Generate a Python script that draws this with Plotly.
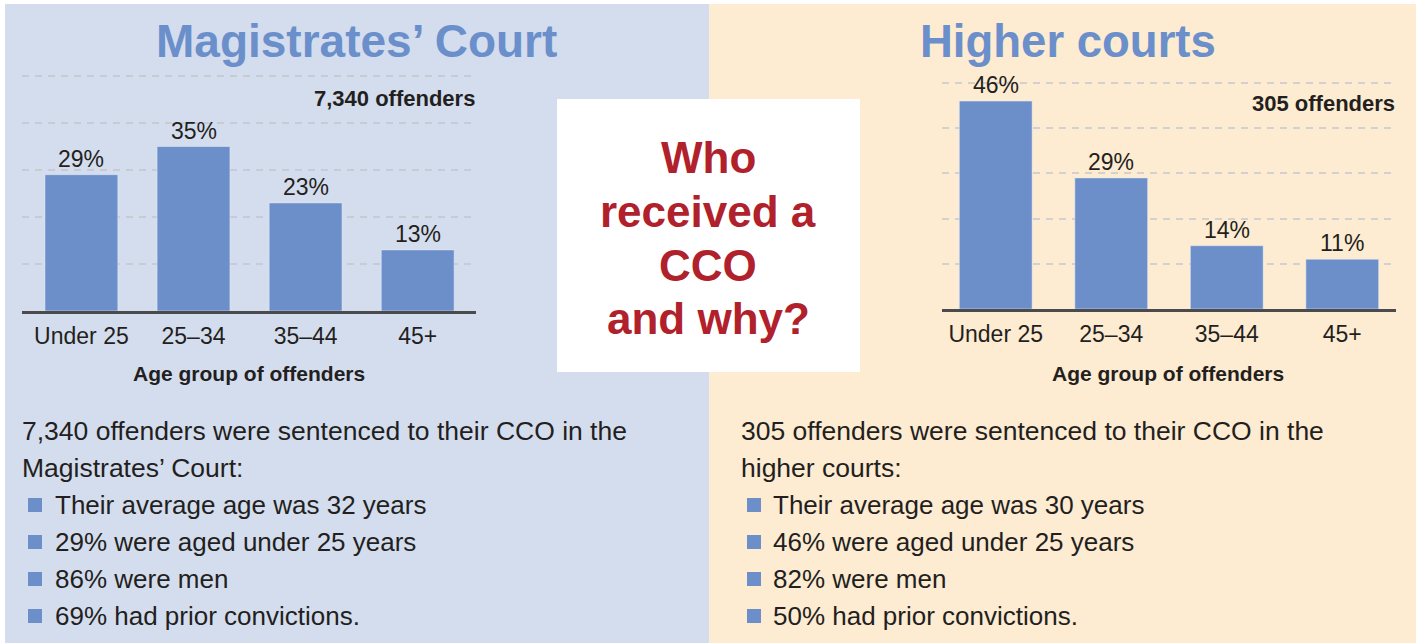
import plotly.graph_objects as go

# ---------------- data ----------------
categories = ["Under 25", "25–34", "35–44", "45+"]
magistrates_pct = [29, 35, 23, 13]
higher_pct = [46, 29, 14, 11]

left_title = "Magistrates’ Court"
right_title = "Higher courts"
left_count = "7,340 offenders"
right_count = "305 offenders"
axis_title = "Age group of offenders"
centre_lines = ["Who", "received a", "CCO", "and why?"]

left_intro = ["7,340 offenders were sentenced to their CCO in the", "Magistrates’ Court:"]
left_bullets = ["Their average age was 32 years", "29% were aged under 25 years",
                "86% were men", "69% had prior convictions."]
right_intro = ["305 offenders were sentenced to their CCO in the", "higher courts:"]
right_bullets = ["Their average age was 30 years", "46% were aged under 25 years",
                 "82% were men", "50% had prior convictions."]

# ---------------- style ----------------
W, H = 1416, 643
FONT = "Liberation Sans, Arial, Helvetica, sans-serif"
BLUE_BG = "#D4DDEE"
CREAM_BG = "#FDEBD2"
BAR = "#6C8FC9"
TITLE = "#6B8FCA"
RED = "#B0212B"
TXT = "#231F20"
AXIS = "#4B4B4D"


def px(x):
    return x / W


def py(y):
    return 1 - y / H


fig = go.Figure()

fig.add_trace(go.Bar(x=categories, y=magistrates_pct, marker_color=BAR, width=0.65,
                     xaxis="x", yaxis="y", hoverinfo="skip", showlegend=False))
fig.add_trace(go.Bar(x=categories, y=higher_pct, marker_color=BAR, width=0.63,
                     xaxis="x2", yaxis="y2", hoverinfo="skip", showlegend=False))

shapes = [
    dict(type="rect", xref="paper", yref="paper", x0=px(5), x1=px(709), y0=py(643), y1=py(4),
         fillcolor=BLUE_BG, line_width=0, layer="below"),
    dict(type="rect", xref="paper", yref="paper", x0=px(709), x1=px(1416), y0=py(643), y1=py(4),
         fillcolor=CREAM_BG, line_width=0, layer="below"),
    dict(type="rect", xref="paper", yref="paper", x0=px(557), x1=px(860), y0=py(372), y1=py(99),
         fillcolor="white", line_width=0, layer="above"),
]

annotations = []


def text(x, y, s, size, color=TXT, bold=False, xanchor="center"):
    annotations.append(dict(xref="paper", yref="paper", x=px(x), y=py(y), text=s,
                            showarrow=False, xanchor=xanchor, yanchor="middle",
                            font=dict(family=FONT, size=size, color=color,
                                      weight="bold" if bold else "normal")))


# titles
text(356, 41, left_title, 46, TITLE, True)
text(1068, 41, right_title, 45.5, TITLE, True)
# counts
text(477, 98, left_count, 22, TXT, True, "right")
text(1397, 103, right_count, 22, TXT, True, "right")
# axis titles
text(249, 373, axis_title, 21, TXT, True)
text(1168, 373, axis_title, 21, TXT, True)
# centre box
for i, line in enumerate(centre_lines):
    text(708, 158 + i * 53.5, line, 44, RED, True)

# bar value labels
for xa, ya, vals in (("x", "y", magistrates_pct), ("x2", "y2", higher_pct)):
    for c, v in zip(categories, vals):
        annotations.append(dict(xref=xa, yref=ya, x=c, y=v, text=f"{v}%", showarrow=False,
                                xanchor="center", yanchor="bottom", yshift=1,
                                font=dict(family=FONT, size=23, color=TXT)))

# body text
LINE0, STEP = 431, 37
for x0, bx, tx, intro, bullets in ((20, 28, 53, left_intro, left_bullets),
                                   (739, 747, 771, right_intro, right_bullets)):
    for i, line in enumerate(intro):
        text(x0, LINE0 + i * STEP, line, 26.5, TXT, False, "left")
    for j, line in enumerate(bullets):
        yc = LINE0 + (j + 2) * STEP
        shapes.append(dict(type="rect", xref="paper", yref="paper", x0=px(bx), x1=px(bx + 14),
                           y0=py(yc + 7), y1=py(yc - 7), fillcolor=BAR, line_width=0))
        text(tx, yc, line, 26, TXT, False, "left")

grid_common = dict(range=[0, 51], tickvals=[10, 20, 30, 40, 50], showticklabels=False,
                   showgrid=True, gridwidth=2, griddash="7px,6px", zeroline=False,
                   showline=False, fixedrange=True)
x_common = dict(showgrid=False, zeroline=False, showline=True, linewidth=3, linecolor=AXIS,
                ticks="", tickfont=dict(family=FONT, size=23, color=TXT), fixedrange=True,
                type="category", ticklabelstandoff=2)

# left plot: baseline y=311, 4.7 px per unit
l_top = 311 - 51 * 4.7
# right plot: baseline y=309, 4.52 px per unit
r_top = 309 - 51 * 4.52

fig.update_layout(
    width=W, height=H,
    margin=dict(l=0, r=0, t=0, b=0),
    paper_bgcolor="white", plot_bgcolor="rgba(0,0,0,0)",
    bargap=0.35,
    xaxis=dict(domain=[px(22), px(476)], range=[-0.53, 3.52], anchor="y", **x_common),
    yaxis=dict(domain=[py(311), py(l_top)], anchor="x", gridcolor="#C7CCD4", **grid_common),
    xaxis2=dict(domain=[px(942), px(1396)], range=[-0.465, 3.465], anchor="y2", **x_common),
    yaxis2=dict(domain=[py(309), py(r_top)], anchor="x2", gridcolor="#D2D1D2", **grid_common),
    shapes=shapes,
    annotations=annotations,
    showlegend=False,
)

fig.write_html("out.html", config={"displayModeBar": False},
               post_script="document.body.style.margin='0';document.body.style.overflow='hidden';")
